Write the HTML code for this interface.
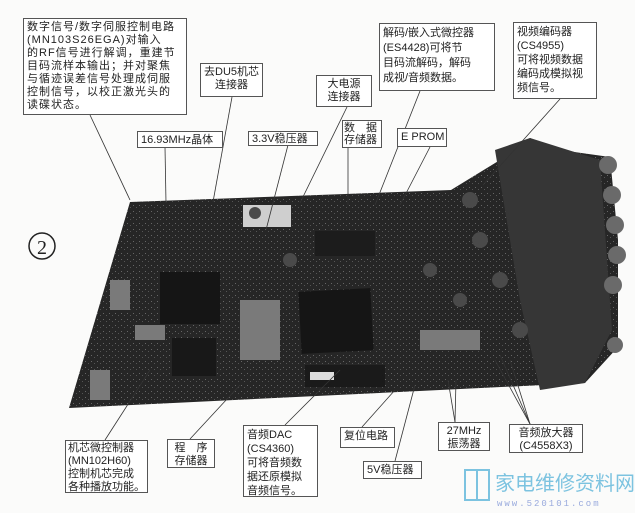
<!DOCTYPE html>
<html><head><meta charset="utf-8"><style>
html,body{margin:0;padding:0;background:#fff;}
.w{position:relative;width:635px;height:513px;overflow:hidden;background:#fbfbfa;font-family:"Liberation Sans","Noto Sans CJK SC",sans-serif;color:#222;}
.b{position:absolute;border:1px solid #555;background:#fff;font-size:11px;line-height:13px;padding:2px 3px;box-sizing:border-box;white-space:nowrap;overflow:hidden;}
svg{position:absolute;left:0;top:0;}
</style></head><body><div class="w">
<svg width="635" height="513" viewBox="0 0 635 513">
<defs>
<pattern id="tx" width="6" height="6" patternUnits="userSpaceOnUse">
<rect width="6" height="6" fill="#262626"/><rect x="1" y="1" width="1" height="1" fill="#666"/><rect x="4" y="3" width="1" height="1" fill="#555"/>
</pattern>
</defs>
<polygon points="130,202 451,190 500,160 530,138 560,150 610,157 618,240 618,347 585,383 69,408" fill="url(#tx)"/>
<polygon points="495,150 530,138 600,160 612,330 585,383 540,390 520,300" fill="#363636"/>
<g fill="#6a6a6a">
<circle cx="608" cy="165" r="9"/><circle cx="612" cy="195" r="9"/><circle cx="615" cy="225" r="9"/><circle cx="617" cy="255" r="9"/><circle cx="613" cy="285" r="9"/><circle cx="615" cy="345" r="8"/>
</g>
<rect x="160" y="272" width="60" height="52" fill="#151515"/>
<rect x="300" y="290" width="72" height="62" fill="#151515" transform="rotate(-3 336 321)"/>
<rect x="172" y="338" width="44" height="38" fill="#181818"/>
<rect x="305" y="365" width="80" height="22" fill="#1a1a1a"/>
<rect x="310" y="372" width="24" height="8" fill="#ddd"/>
<rect x="315" y="231" width="60" height="25" fill="#1c1c1c"/>
<rect x="243" y="205" width="48" height="22" fill="#cfcfcf"/>
<g fill="#7a7a7a">
<rect x="240" y="300" width="40" height="60"/><rect x="110" y="280" width="20" height="30"/><rect x="90" y="370" width="20" height="30"/>
<rect x="420" y="330" width="60" height="20"/><rect x="135" y="325" width="30" height="15"/>
</g>
<g fill="#4a4a4a"><circle cx="470" cy="200" r="8"/><circle cx="480" cy="240" r="8"/><circle cx="500" cy="280" r="8"/><circle cx="460" cy="300" r="7"/><circle cx="430" cy="270" r="7"/><circle cx="520" cy="330" r="8"/><circle cx="255" cy="213" r="6"/><circle cx="290" cy="260" r="7"/></g>
<g stroke="#333" stroke-width="0.8" fill="none">
<line x1="90" y1="115" x2="130" y2="200"/>
<line x1="165" y1="147" x2="166" y2="203"/>
<line x1="232" y1="97" x2="213" y2="202"/>
<line x1="288" y1="145" x2="266" y2="230"/>
<line x1="347" y1="107" x2="300" y2="203"/>
<line x1="348" y1="147" x2="348" y2="205"/>
<line x1="420" y1="91" x2="375" y2="205"/>
<line x1="430" y1="147" x2="400" y2="205"/>
<line x1="560" y1="99" x2="483" y2="185"/>
<line x1="105" y1="440" x2="150" y2="370"/>
<line x1="190" y1="439" x2="240" y2="385"/>
<line x1="285" y1="425" x2="340" y2="370"/>
<line x1="362" y1="427" x2="395" y2="390"/>
<line x1="395" y1="461" x2="415" y2="385"/>
<line x1="455" y1="422" x2="448" y2="380"/><line x1="455" y1="422" x2="456" y2="380"/>
<line x1="530" y1="424" x2="500" y2="355"/><line x1="530" y1="424" x2="495" y2="360"/><line x1="530" y1="424" x2="510" y2="360"/>
</g>
<circle cx="42" cy="246" r="13" fill="none" stroke="#222" stroke-width="1.5"/>
<text x="42" y="254" font-size="20" text-anchor="middle" font-family="Liberation Serif,serif" fill="#222">2</text>
<rect x="465" y="470" width="24" height="30" fill="none" stroke="#7cc3e0" stroke-width="2"/>
<line x1="477" y1="470" x2="477" y2="500" stroke="#7cc3e0" stroke-width="2"/>
<text x="495" y="490" font-size="20" fill="#7cc3e0" font-family="Noto Sans CJK SC,sans-serif">家电维修资料网</text>
<text x="497" y="506" font-size="9" fill="#9ad" font-family="Liberation Mono,monospace" letter-spacing="2">www.520101.com</text>
</svg>
<div class="b" style="left:23px;top:18px;width:164px;height:97px;letter-spacing:1px">数字信号/数字伺服控制电路<br>(MN103S26EGA)对输入<br>的RF信号进行解调，重建节<br>目码流样本输出；并对聚焦<br>与循迹误差信号处理成伺服<br>控制信号，以校正激光头的<br>读碟状态。</div>
<div class="b" style="left:200px;top:63px;width:63px;height:34px;text-align:center">去DU5机芯<br>连接器</div>
<div class="b" style="left:137px;top:131px;width:86px;height:17px;line-height:12px">16.93MHz晶体</div>
<div class="b" style="left:248px;top:131px;width:70px;height:15px;line-height:10px">3.3V稳压器</div>
<div class="b" style="left:316px;top:75px;width:56px;height:32px;text-align:center">大电源<br>连接器</div>
<div class="b" style="left:342px;top:120px;width:40px;height:28px;padding:1px;line-height:12px">数　据<br>存储器</div>
<div class="b" style="left:397px;top:128px;width:50px;height:19px;line-height:13px">E PROM</div>
<div class="b" style="left:379px;top:23px;width:116px;height:68px;line-height:15px">解码/嵌入式微控器<br>(ES4428)可将节<br>目码流解码，解码<br>成视/音频数据。</div>
<div class="b" style="left:513px;top:22px;width:84px;height:77px;line-height:14px">视频编码器<br>(CS4955)<br>可将视频数据<br>编码成模拟视<br>频信号。</div>
<div class="b" style="left:65px;top:440px;width:83px;height:53px;padding:1px 2px">机芯微控制器<br>(MN102H60)<br>控制机芯完成<br>各种播放功能。</div>
<div class="b" style="left:167px;top:439px;width:48px;height:29px;text-align:center">程　序<br>存储器</div>
<div class="b" style="left:243px;top:425px;width:75px;height:72px;line-height:14px">音频DAC<br>(CS4360)<br>可将音频数<br>据还原模拟<br>音频信号。</div>
<div class="b" style="left:340px;top:427px;width:55px;height:21px">复位电路</div>
<div class="b" style="left:363px;top:461px;width:59px;height:18px;line-height:12px">5V稳压器</div>
<div class="b" style="left:438px;top:422px;width:52px;height:29px;text-align:center">27MHz<br>振荡器</div>
<div class="b" style="left:509px;top:424px;width:74px;height:29px;text-align:center">音频放大器<br>(C4558X3)</div>
</div></body></html>
